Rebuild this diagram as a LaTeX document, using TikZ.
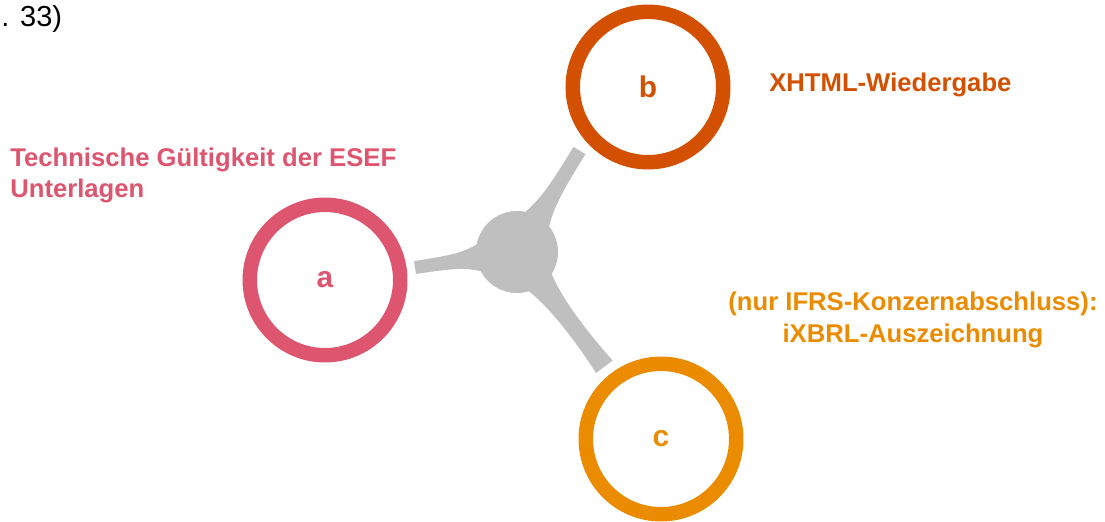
\documentclass[tikz,border=0pt]{standalone}
\usepackage{fontspec}
\setmainfont{Liberation Sans}
\usetikzlibrary{calc}

\definecolor{ringa}{RGB}{221,85,111}
\definecolor{ringb}{RGB}{210,80,0}
\definecolor{ringc}{RGB}{235,140,0}
\definecolor{hubgray}{RGB}{191,191,191}

% tapered spoke from the hub to a free end
\newcommand{\spoke}[2]{%
	\path let \p1=($(#1)-(hub.center)$) in
		\pgfextra{\pgfmathsetmacro\spokeang{atan2(\y1,\x1)}\pgfmathsetlengthmacro\spokelen{veclen(\x1,\y1)}%
		\global\let\spokeang\spokeang\global\let\spokelen\spokelen};
	\begin{scope}[shift={(hub.center)},rotate=\spokeang]
		\fill[hubgray] (16pt,10pt) .. controls (30pt,4.6pt) and ({\spokelen-28pt},3.8pt) .. (\spokelen,#2)
			-- (\spokelen,-#2) .. controls ({\spokelen-28pt},-3.8pt) and (30pt,-4.6pt) .. (16pt,-10pt) -- cycle;
	\end{scope}}

\begin{document}
\begin{tikzpicture}[x=0.02cm,y=-0.02cm,
	ring/.style={circle,draw=#1,line width=0.29cm,minimum size=3.01cm,text=#1,
		font=\bfseries\fontsize{17}{20}\selectfont},
	label/.style={text=#1,inner sep=0pt,font=\bfseries\fontsize{14.6}{17.1}\selectfont}]
	\useasboundingbox (0,0) rectangle (1105,521);

	\node[circle,fill=hubgray,minimum size=1.64cm,inner sep=0pt] (hub) at (517,252) {};
	\node[ring=ringa] (a) at (325,280) {\raisebox{-0.12em}{a}};
	\node[ring=ringb] (b) at (648,87) {b};
	\node[ring=ringc] (c) at (661,439) {c};

	\coordinate (ea) at (415,267.5);
	\coordinate (eb) at (579.5,150.5);
	\coordinate (ec) at (604.5,367);
	\spoke{ea}{3.7pt}
	\spoke{eb}{4pt}
	\spoke{ec}{5.9pt}

	\node[label=ringa,anchor=base west,align=left] (la) at (10,197) {Technische Gültigkeit der ESEF\\Unterlagen};
	\node[label=ringb,anchor=base west] (lb) at (769,91) {XHTML-Wiedergabe};
	\node[label=ringc,anchor=base,align=center,font=\bfseries\fontsize{14.6}{18.2}\selectfont] (lc) at (913,342)
		{(nur IFRS-Konzernabschluss):\\iXBRL-Auszeichnung};
	\node[anchor=base west,inner sep=0pt,font=\fontsize{16.5}{19}\selectfont] (ref) at (1,26) {. 33)};
\end{tikzpicture}
\end{document}
